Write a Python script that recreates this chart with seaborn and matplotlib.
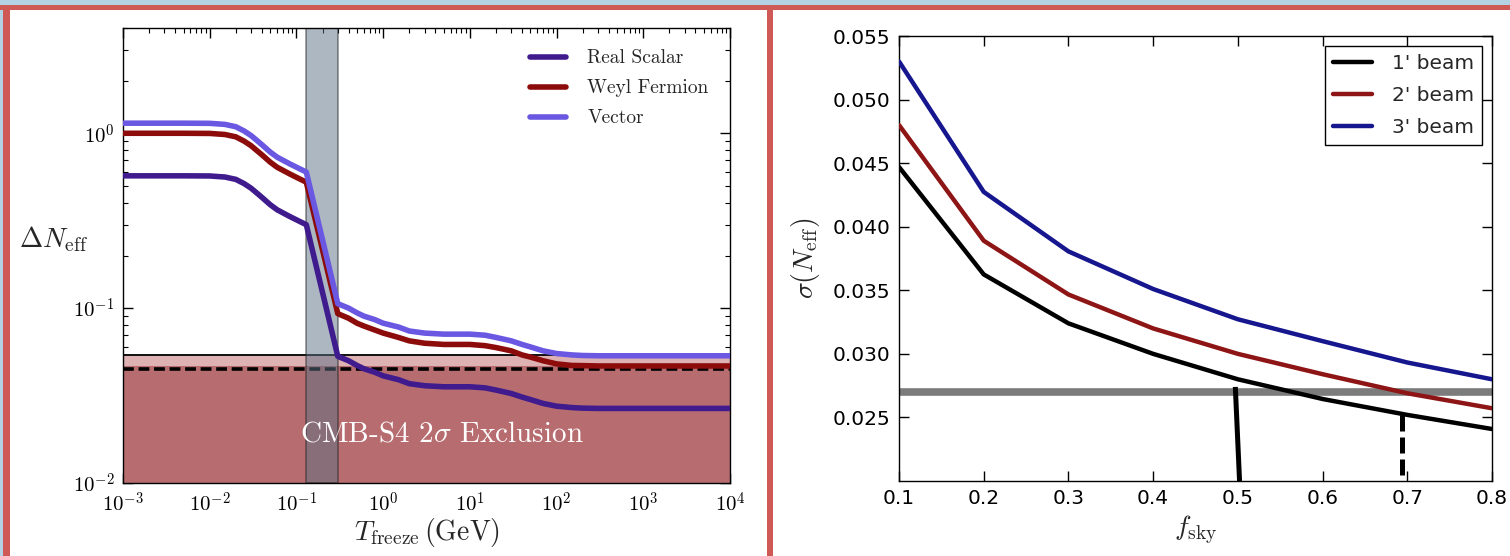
import matplotlib
matplotlib.use("Agg")
import matplotlib.pyplot as plt
from matplotlib.patches import Rectangle
from matplotlib.lines import Line2D
from matplotlib.ticker import NullFormatter
import pandas as pd
import seaborn as sns

# ---------------- left panel: Delta N_eff versus freeze-out temperature ----------------
species = ["Real Scalar", "Weyl Fermion", "Vector"]
species_colors = ["#3f1b8e", "#8c0c0c", "#6a58e2"]

t_freeze = [1e-3, 5e-3, 1e-2, 1.5e-2, 2e-2, 2.5e-2, 3e-2, 3.5e-2, 4e-2, 5e-2, 6e-2,
            8.5e-2, 0.1, 0.13, 0.3, 0.4, 0.5, 0.6, 0.8, 1.0, 1.5, 2.0, 3.0, 5.0,
            10.0, 15.0, 20.0, 30.0, 40.0, 50.0, 70.0, 100.0, 150.0, 200.0, 300.0, 1e4]
dn_scalar = [0.571, 0.571, 0.570, 0.562, 0.545, 0.515, 0.485, 0.455, 0.430, 0.390, 0.365,
             0.333, 0.320, 0.300, 0.053, 0.050, 0.047, 0.045, 0.043, 0.041, 0.039, 0.037,
             0.036, 0.0355, 0.0355, 0.035, 0.034, 0.0325, 0.031, 0.030, 0.0285, 0.0275,
             0.0270, 0.0268, 0.0267, 0.0267]
dn_weyl = [1.000, 1.000, 0.998, 0.984, 0.954, 0.901, 0.849, 0.796, 0.753, 0.683, 0.639,
           0.583, 0.560, 0.525, 0.093, 0.0875, 0.082, 0.079, 0.075, 0.072, 0.068, 0.065,
           0.063, 0.062, 0.062, 0.061, 0.0595, 0.057, 0.054, 0.0525, 0.050, 0.048,
           0.047, 0.0469, 0.0467, 0.0467]
dn_vector = [1.142, 1.142, 1.140, 1.124, 1.090, 1.030, 0.970, 0.910, 0.860, 0.780, 0.730,
             0.666, 0.640, 0.600, 0.106, 0.100, 0.094, 0.090, 0.086, 0.082, 0.078, 0.074,
             0.072, 0.071, 0.071, 0.070, 0.068, 0.065, 0.062, 0.060, 0.057, 0.055,
             0.054, 0.0536, 0.0534, 0.0534]

qcd_band = [0.13, 0.30]              # GeV
s4_floor = 1e-2
s4_bound_solid = 0.054
s4_bound_dark = 0.0465
s4_bound_dashed = 0.0448

t_ticks = [1e-3, 1e-2, 1e-1, 1e0, 1e1, 1e2, 1e3, 1e4]
t_ticklabels = [r"$10^{-3}$", r"$10^{-2}$", r"$10^{-1}$", r"$10^{0}$",
                r"$10^{1}$", r"$10^{2}$", r"$10^{3}$", r"$10^{4}$"]
dn_ticks = [1e-2, 1e-1, 1e0]
dn_ticklabels = [r"$10^{-2}$", r"$10^{-1}$", r"$10^{0}$"]

# ---------------- right panel: sigma(N_eff) versus sky fraction ----------------
beams = ["1' beam", "2' beam", "3' beam"]
beam_colors = ["#000000", "#8e1515", "#16168e"]
fsky = [0.1, 0.2, 0.3, 0.4, 0.5, 0.6, 0.7, 0.8]
sigma_1 = [0.0447, 0.03625, 0.0324, 0.0300, 0.0280, 0.02645, 0.02520, 0.02409]
sigma_2 = [0.0480, 0.0389, 0.03467, 0.0320, 0.0300, 0.0284, 0.0269, 0.02572]
sigma_3 = [0.0530, 0.04274, 0.03806, 0.0351, 0.03272, 0.0310, 0.02932, 0.0280]
sigma_target = 0.027
cut_solid_fsky = [0.497, 0.502]
cut_solid_sigma = [0.0274, 0.0200]
cut_dash_fsky = [0.694, 0.694]
cut_dash_sigma = [0.0252, 0.0200]
fsky_ticks = [0.1, 0.2, 0.3, 0.4, 0.5, 0.6, 0.7, 0.8]
sigma_ticks = [0.025, 0.030, 0.035, 0.040, 0.045, 0.050, 0.055]

# ---------------- style ----------------
sns.set_style("ticks")
plt.rcParams.update({
    "font.family": ["DejaVu Sans"],
    "mathtext.fontset": "cm",
    "axes.linewidth": 1.0,
    "axes.edgecolor": "black",
    "xtick.direction": "in",
    "ytick.direction": "in",
    "xtick.top": True,
    "ytick.right": True,
    "xtick.color": "black",
    "ytick.color": "black",
})

W, H = 1510, 556
fig = plt.figure(figsize=(W / 100, H / 100), dpi=100, facecolor="white")


def px_rect(x, y, w, h, color):
    """Rectangle given in pixel units measured from the top-left corner."""
    fig.patches.append(Rectangle((x / W, 1 - (y + h) / H), w / W, h / H,
                                 transform=fig.transFigure, facecolor=color,
                                 edgecolor="none", zorder=0))


# slide frame
px_rect(0, 0, W, 5, "#b3d2e4")
px_rect(0, 0, 3, H, "#b3d2e4")
px_rect(0, 5, W, 5, "#cf5a55")
px_rect(3, 5, 7, H - 5, "#cf5a55")
px_rect(767, 5, 6, H - 5, "#cf5a55")

# ================= left axes =================
axL = fig.add_axes([123 / W, 1 - 483 / H, 607 / W, 455 / H])
axL.set_xscale("log")
axL.set_yscale("log")

axL.axhspan(s4_floor, s4_bound_solid, color="#deb1b3", lw=0, zorder=1)
axL.axhspan(s4_floor, s4_bound_dark, color="#b76c6f", lw=0, zorder=1.1)
axL.axhline(s4_bound_solid, color="black", lw=1.3, zorder=2)
axL.axhline(s4_bound_dashed, color="black", lw=2.6, ls=(0, (3.0, 1.3)), zorder=2)
axL.axvspan(qcd_band[0], qcd_band[1], facecolor="#5a7184", alpha=0.5,
            edgecolor="#222222", lw=1.2, zorder=2.5)

dfL = pd.DataFrame({
    "T": t_freeze * 3,
    "dN": dn_scalar + dn_weyl + dn_vector,
    "species": [s for s in species for _ in t_freeze],
})
sns.lineplot(data=dfL, x="T", y="dN", hue="species", hue_order=species,
             palette=dict(zip(species, species_colors)), linewidth=4,
             sort=False, estimator=None, legend=False, ax=axL, zorder=3)

axL.set_xlim(1e-3, 1e4)
axL.set_ylim(1e-2, 4)
axL.set_xticks(t_ticks, t_ticklabels)
axL.set_yticks(dn_ticks, dn_ticklabels)
axL.xaxis.set_minor_formatter(NullFormatter())
axL.yaxis.set_minor_formatter(NullFormatter())
axL.tick_params(which="major", length=7, width=1.0, labelsize=15, pad=6,
                top=True, right=True)
axL.tick_params(which="minor", length=3.5, width=0.8, top=True, right=True)

axL.set_xlabel(r"$T_{\rm freeze}\,({\rm GeV})$", fontsize=20, labelpad=0)
axL.set_ylabel(r"$\Delta N_{\rm eff}$", fontsize=20, rotation=0, va="center")
axL.yaxis.set_label_coords(-0.115, 0.535)

axL.text(0.5255, 0.108, r"CMB-S4 $2\sigma$ Exclusion", transform=axL.transAxes,
         ha="center", va="center", color="white", fontsize=21,
         family="cmr10", zorder=4)

handlesL = [Line2D([], [], color=c, lw=4) for c in species_colors]
axL.legend(handlesL, species, loc="upper right", frameon=False,
           prop={"family": "cmr10", "size": 14}, handlelength=1.85,
           handletextpad=1.1, labelspacing=0.62, borderaxespad=0.7)

# ================= right axes =================
axR = fig.add_axes([899 / W, 1 - 481 / H, 593 / W, 445 / H])

axR.axhline(sigma_target, color="#7c7c7c", lw=5.5, zorder=1)

dfR = pd.DataFrame({
    "fsky": fsky * 3,
    "sigma": sigma_1 + sigma_2 + sigma_3,
    "beam": [b for b in beams for _ in fsky],
})
sns.lineplot(data=dfR, x="fsky", y="sigma", hue="beam", hue_order=beams,
             palette=dict(zip(beams, beam_colors)), linewidth=3.2,
             sort=False, estimator=None, ax=axR, zorder=3)

axR.plot(cut_solid_fsky, cut_solid_sigma, color="black", lw=3.6,
         solid_capstyle="butt", zorder=4)
axR.plot(cut_dash_fsky, cut_dash_sigma, color="black", lw=3.6,
         ls=(0, (3.2, 1.2)), zorder=4)

axR.set_xlim(0.1, 0.8)
axR.set_ylim(0.020, 0.055)
axR.set_xticks(fsky_ticks, [f"{v:.1f}" for v in fsky_ticks])
axR.set_yticks(sigma_ticks, [f"{v:.3f}" for v in sigma_ticks])
axR.tick_params(which="major", length=7, width=1.0, labelsize=14.5, pad=6,
                top=True, right=True)
axR.set_xlabel(r"$f_{\rm sky}$", fontsize=20, labelpad=4)
axR.set_ylabel(r"$\sigma(N_{\rm eff})$", fontsize=20, labelpad=8)

handlesR = [Line2D([], [], color=c, lw=3.2) for c in beam_colors]
legR = axR.legend(handlesR, beams, loc="upper right", frameon=True,
                  fancybox=False, framealpha=1, edgecolor="black",
                  prop={"size": 14.5}, handlelength=1.9, handletextpad=1.0,
                  labelspacing=0.65, borderaxespad=0.5)
legR.get_frame().set_linewidth(1.0)

fig.savefig("out.png", dpi=100, facecolor=fig.get_facecolor())
